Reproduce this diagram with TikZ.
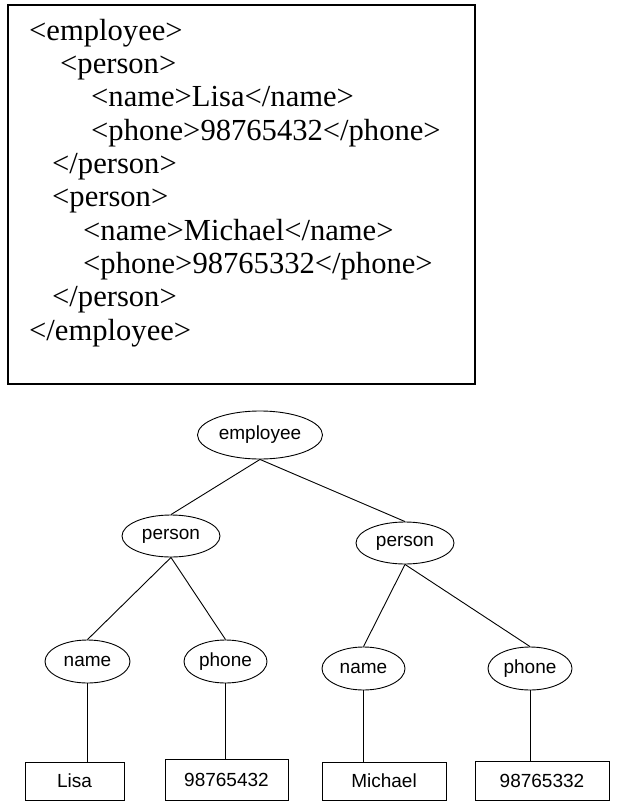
\documentclass[tikz,border=0pt]{standalone}
\usepackage{fontspec}
\setmainfont{Liberation Serif}
\newfontfamily\treefont{Liberation Sans}
\usetikzlibrary{shapes.geometric}
\begin{document}
\begin{tikzpicture}[x=1pt,y=-1pt,
  xmlline/.style={anchor=base west,inner sep=0pt,font=\fontsize{30.6}{33}\selectfont},
  tnode/.style={draw,ellipse,inner sep=0pt,line width=0.9pt,font=\treefont\fontsize{19}{21}\selectfont},
  leaf/.style={draw,rectangle,inner sep=0pt,line width=0.9pt,font=\treefont\fontsize{19}{21}\selectfont},
  edge/.style={line width=0.9pt}]
\useasboundingbox (0,0) rectangle (627,802);
% XML listing box
\node[draw,line width=1.5pt,minimum width=467pt,minimum height=379pt,inner sep=0pt] (xmlbox) at (241.5,194.5) {};
\node[xmlline] (l1) at (29,40.3) {<employee>};
\node[xmlline] (l2) at (60,73.6) {<person>};
\node[xmlline] (l3) at (91,106.9) {<name>Lisa</name>};
\node[xmlline] (l4) at (91,140.2) {<phone>98765432</phone>};
\node[xmlline] (l5) at (52,173.5) {</person>};
\node[xmlline] (l6) at (52,206.8) {<person>};
\node[xmlline] (l7) at (83,240.1) {<name>Michael</name>};
\node[xmlline] (l8) at (83,273.4) {<phone>98765332</phone>};
\node[xmlline] (l9) at (52,306.7) {</person>};
\node[xmlline] (l10) at (29,340) {</employee>};
% tree
\node[tnode,minimum width=125pt,minimum height=48pt] (emp) at (260,435) {employee};
\node[tnode,minimum width=98pt,minimum height=42pt] (p1) at (171,536) {person};
\node[tnode,minimum width=98pt,minimum height=42pt] (p2) at (405,543) {person};
\node[tnode,minimum width=85pt,minimum height=43pt] (n1) at (87.5,661.5) {name};
\node[tnode,minimum width=83pt,minimum height=43pt] (ph1) at (225.5,661.5) {phone};
\node[tnode,minimum width=83pt,minimum height=43pt] (n2) at (363.5,668.5) {name};
\node[tnode,minimum width=84pt,minimum height=43pt] (ph2) at (530,668.5) {phone};
\node[leaf,minimum width=99pt,minimum height=38pt] (b1) at (74.5,781) {Lisa};
\node[leaf,minimum width=123pt,minimum height=41pt] (b2) at (226.5,779.5) {98765432};
\node[leaf,minimum width=124pt,minimum height=38pt] (b3) at (384,781) {Michael};
\node[leaf,minimum width=134pt,minimum height=39pt] (b4) at (542,780.5) {98765332};
% connectors
\draw[edge] (emp.south) -- (p1.north);
\draw[edge] (emp.south) -- (p2.north);
\draw[edge] (p1.south) -- (n1.north);
\draw[edge] (p1.south) -- (ph1.north);
\draw[edge] (p2.south) -- (n2.north);
\draw[edge] (p2.south) -- (ph2.north);
\draw[edge] (n1.south) -- (n1.south |- b1.north);
\draw[edge] (ph1.south) -- (ph1.south |- b2.north);
\draw[edge] (n2.south) -- (n2.south |- b3.north);
\draw[edge] (ph2.south) -- (ph2.south |- b4.north);
\end{tikzpicture}
\end{document}
